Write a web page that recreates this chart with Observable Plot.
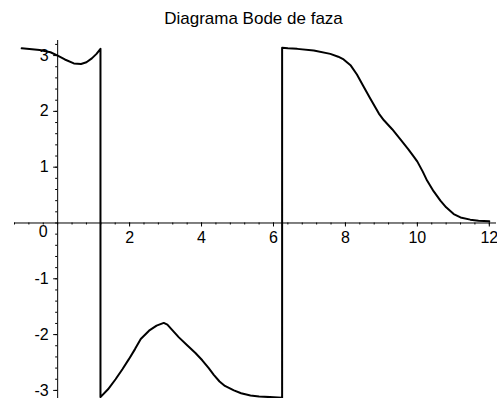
<!DOCTYPE html>
<html>
<head>
<meta charset="utf-8">
<script src="https://cdn.jsdelivr.net/npm/d3@7"></script>
<script src="https://cdn.jsdelivr.net/npm/@observablehq/plot@0.6"></script>
<style>
  body { margin: 0; background: #fff; }
  #wrap { position: relative; width: 497px; height: 398px; overflow: hidden; background: #fff; }
  #title { position: absolute; left: 0; top: 9px; width: 497px; padding-left: 10px; box-sizing: border-box;
           text-align: center; font: 17px "Liberation Sans", Arial, sans-serif; color: #000; }
  #chart { position: absolute; left: 0; top: 30px; }
</style>
</head>
<body>
<div id="wrap">
  <div id="title">Diagrama Bode de faza</div>
  <div id="chart"></div>
</div>
<script>
// Frequency samples and wrapped phase (rad); the repeated abscissae are the ±π wraps.
const omega = [
  -1.0, -0.5, -0.2, 0.0, 0.2, 0.45, 0.65, 0.8, 0.95, 1.08, 1.19,
  1.19, 1.4, 1.61, 1.8, 1.98, 2.15, 2.31, 2.54, 2.75, 2.95, 3.05, 3.2, 3.37, 3.6, 3.83,
  4.02, 4.2, 4.34, 4.5, 4.65, 4.9, 5.1, 5.36, 5.6, 5.9, 6.24,
  6.24, 6.4, 6.66, 7.12, 7.58, 7.8, 7.95, 8.15, 8.32, 8.5, 8.69, 8.93, 9.07, 9.3, 9.54,
  9.75, 9.91, 10.0, 10.15, 10.27, 10.45, 10.64, 10.8, 11.01, 11.2, 11.47, 11.7, 12.0
];
const phase = [
  3.13, 3.10, 3.06, 3.00, 2.93, 2.86, 2.85, 2.88, 2.95, 3.03, 3.12,
  -3.12, -2.98, -2.80, -2.62, -2.44, -2.26, -2.08, -1.93, -1.84, -1.79, -1.82, -1.93, -2.05, -2.19, -2.33,
  -2.46, -2.60, -2.72, -2.84, -2.92, -3.00, -3.05, -3.09, -3.11, -3.12, -3.13,
  3.14, 3.13, 3.12, 3.09, 3.03, 2.98, 2.93, 2.82, 2.66, 2.45, 2.23, 1.96, 1.84, 1.68, 1.49,
  1.32, 1.18, 1.10, 0.92, 0.76, 0.57, 0.40, 0.28, 0.16, 0.10, 0.06, 0.04, 0.03
];

// Axis ticks and their labels
const xTicks = [2, 4, 6, 8, 10, 12];
const xTickLabels = ["2", "4", "6", "8", "10", "12"];
const yTicks = [-3, -2, -1, 1, 2, 3];
const yTickLabels = ["-3", "-2", "-1", "1", "2", "3"];
const originLabel = ["0"];
const xMinor = d3.range(-3, 31).map(i => i * 0.4);
const yMinor = d3.range(-16, 17).map(i => i * 0.2);

const curve = omega.map((w, i) => ({w, p: phase[i]}));
const xLab = xTicks.map((v, i) => ({v, t: xTickLabels[i]}));
const yLab = yTicks.map((v, i) => ({v, t: yTickLabels[i]}));

const chart = Plot.plot({
  width: 497,
  height: 368,
  marginLeft: 14,
  marginRight: 1,
  marginTop: 10,
  marginBottom: 0,
  x: {domain: [-1.2, 12.2], axis: null},
  y: {domain: [-3.145, 3.27], axis: null},
  style: {background: "#fff", fontFamily: "'Liberation Sans', Arial, sans-serif", fontSize: "16px", overflow: "visible"},
  marks: [
    // axes through the origin
    Plot.ruleY([0], {stroke: "#000", strokeWidth: 1}),
    Plot.ruleX([0], {stroke: "#000", strokeWidth: 1}),
    // minor and major ticks on the horizontal axis (below the line)
    Plot.ruleX(xMinor, {x: d => d, y1: 0, y2: 0, insetTop: 0, insetBottom: -2, stroke: "#000"}),
    Plot.ruleX(xTicks, {x: d => d, y1: 0, y2: 0, insetTop: 0, insetBottom: -4, stroke: "#000"}),
    // minor and major ticks on the vertical axis (left of the line)
    Plot.ruleY(yMinor, {y: d => d, x1: 0, x2: 0, insetLeft: -2, insetRight: 0, stroke: "#000"}),
    Plot.ruleY(yTicks, {y: d => d, x1: 0, x2: 0, insetLeft: -4, insetRight: 0, stroke: "#000"}),
    // tick labels
    Plot.text(xLab, {x: "v", y: 0, text: "t", dy: 14.5, textAnchor: "middle", lineAnchor: "middle", fill: "#000"}),
    Plot.text(yLab, {x: 0, y: "v", text: "t", dx: -9, textAnchor: "end", lineAnchor: "middle", fill: "#000"}),
    Plot.text(originLabel, {x: 0, y: 0, text: d => d, dx: -10, dy: 9, textAnchor: "end", lineAnchor: "middle", fill: "#000"}),
    // phase curve
    Plot.line(curve, {x: "w", y: "p", stroke: "#000", strokeWidth: 2, strokeLinejoin: "round"})
  ]
});
document.getElementById("chart").appendChild(chart);
</script>
</body>
</html>
